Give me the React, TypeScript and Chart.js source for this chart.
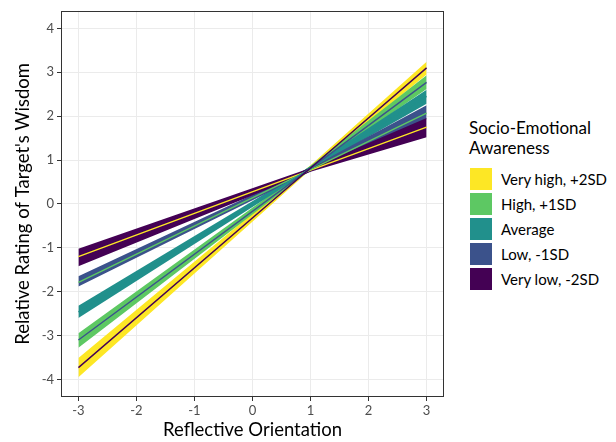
import React, { useEffect, useRef } from "react";
import { Chart, registerables } from "chart.js";

Chart.register(...registerables);

// x positions at which the fitted lines and confidence bands are read
const X_POINTS = [-3, 1, 3];
const X_TICKS = [-3, -2, -1, 0, 1, 2, 3];
const Y_TICKS = [-4, -3, -2, -1, 0, 1, 2, 3, 4];

const GROUP_LABELS = ["Very high, +2SD", "High, +1SD", "Average", "Low, -1SD", "Very low, -2SD"];
const FILL_COLORS = ["#FDE725", "#5DC863", "#21908C", "#3B528B", "#440154"];
const LINE_COLORS = ["#440154", "#3B528B", "#21908C", "#5DC863", "#FDE725"];

// fitted values
const VERY_HIGH_FIT = [-3.73, 0.82, 3.1];
const HIGH_FIT = [-3.1, 0.81, 2.77];
const AVERAGE_FIT = [-2.46, 0.81, 2.45];
const LOW_FIT = [-1.79, 0.78, 2.07];
const VERY_LOW_FIT = [-1.2, 0.77, 1.75];

// confidence band lower / upper
const VERY_HIGH_LOWER = [-3.95, 0.78, 2.95];
const VERY_HIGH_UPPER = [-3.51, 0.88, 3.24];
const HIGH_LOWER = [-3.28, 0.77, 2.62];
const HIGH_UPPER = [-2.95, 0.87, 2.93];
const AVERAGE_LOWER = [-2.6, 0.77, 2.28];
const AVERAGE_UPPER = [-2.32, 0.86, 2.6];
const LOW_LOWER = [-1.88, 0.74, 1.93];
const LOW_UPPER = [-1.65, 0.83, 2.25];
const VERY_LOW_LOWER = [-1.42, 0.73, 1.52];
const VERY_LOW_UPPER = [-1.02, 0.82, 1.96];

const FITS = [VERY_HIGH_FIT, HIGH_FIT, AVERAGE_FIT, LOW_FIT, VERY_LOW_FIT];
const LOWERS = [VERY_HIGH_LOWER, HIGH_LOWER, AVERAGE_LOWER, LOW_LOWER, VERY_LOW_LOWER];
const UPPERS = [VERY_HIGH_UPPER, HIGH_UPPER, AVERAGE_UPPER, LOW_UPPER, VERY_LOW_UPPER];

const X_TITLE = "Reflective Orientation";
const Y_TITLE = "Relative Rating of Target's Wisdom";
const LEGEND_TITLE = ["Socio-Emotional", "Awareness"];

const FONT = "Lato, 'Noto Sans', sans-serif";

const panelBorder = {
  id: "panelBorder",
  afterDatasetsDraw(chart: any) {
    const { ctx, chartArea } = chart;
    ctx.save();
    ctx.strokeStyle = "#333333";
    ctx.lineWidth = 1;
    ctx.strokeRect(
      Math.round(chartArea.left) + 0.5,
      Math.round(chartArea.top) + 0.5,
      Math.round(chartArea.right - chartArea.left) - 1,
      Math.round(chartArea.bottom - chartArea.top) - 1
    );
    ctx.restore();
  },
};

export default function App() {
  const ref = useRef<HTMLCanvasElement | null>(null);

  useEffect(() => {
    if (!ref.current) return;
    const datasets: any[] = [];
    const toPts = (arr: number[]) => X_POINTS.map((x, j) => ({ x, y: arr[j] }));
    // ribbons
    GROUP_LABELS.forEach((label, i) => {
      const upperIndex = datasets.length;
      datasets.push({
        label: label + " upper",
        data: toPts(UPPERS[i]),
        borderWidth: 0,
        pointRadius: 0,
        backgroundColor: FILL_COLORS[i],
        borderColor: FILL_COLORS[i],
        fill: upperIndex + 1,
        order: 10 - i,
        tension: 0,
      });
      datasets.push({
        label: label + " lower",
        data: toPts(LOWERS[i]),
        borderWidth: 0,
        pointRadius: 0,
        backgroundColor: FILL_COLORS[i],
        borderColor: FILL_COLORS[i],
        fill: false,
        order: 10 - i,
        tension: 0,
      });
    });
    // fitted lines
    GROUP_LABELS.forEach((label, i) => {
      datasets.push({
        label,
        data: toPts(FITS[i]),
        borderWidth: 1.4,
        borderColor: LINE_COLORS[i],
        pointRadius: 0,
        fill: false,
        order: 0,
        tension: 0,
      });
    });

    const chart = new Chart(ref.current, {
      type: "line",
      data: { datasets },
      plugins: [panelBorder],
      options: {
        animation: false,
        responsive: false,
        devicePixelRatio: 1,
        layout: { padding: { left: 0, right: 8, top: 10, bottom: 0 } },
        plugins: {
          legend: { display: false },
          tooltip: { enabled: false },
        },
        scales: {
          x: {
            type: "linear",
            min: -3.3,
            max: 3.3,
            afterBuildTicks: (scale: any) => {
              scale.ticks = X_TICKS.map((v) => ({ value: v }));
            },
            afterFit: (scale: any) => {
              scale.height = 45;
            },
            ticks: {
              color: "#4D4D4D",
              font: { family: FONT, size: 13 },
              padding: 2,
              maxRotation: 0,
              autoSkip: false,
              callback: (v: any) => String(v),
            },
            grid: {
              color: "#EBEBEB",
              lineWidth: 1,
              drawTicks: true,
              tickLength: 4,
              tickColor: "#333333",
            },
            border: { display: false },
            title: {
              display: true,
              text: X_TITLE,
              color: "#000000",
              font: { family: FONT, size: 18.5 },
              padding: { top: 1, bottom: 1 },
            },
          },
          y: {
            type: "linear",
            min: -4.4,
            max: 4.4,
            afterBuildTicks: (scale: any) => {
              scale.ticks = Y_TICKS.map((v) => ({ value: v }));
            },
            afterFit: (scale: any) => {
              scale.width = 61;
            },
            ticks: {
              color: "#4D4D4D",
              font: { family: FONT, size: 13 },
              padding: 3,
              autoSkip: false,
              callback: (v: any) => String(v),
            },
            grid: {
              color: "#EBEBEB",
              lineWidth: 1,
              drawTicks: true,
              tickLength: 4,
              tickColor: "#333333",
            },
            border: { display: false },
            title: {
              display: true,
              text: Y_TITLE,
              color: "#000000",
              font: { family: FONT, size: 18.5 },
              padding: { top: 12, bottom: 12 },
            },
          },
        },
      },
    } as any);
    return () => chart.destroy();
  }, []);

  return (
    <div style={{ position: "fixed", left: 0, top: 0, width: 616, height: 442, background: "#fff", fontFamily: FONT }}>
      <canvas ref={ref} width={452} height={442} style={{ position: "absolute", left: 0, top: 0, width: 452, height: 442 }} />
      <div style={{ position: "absolute", left: 469, top: 118 }}>
        <div style={{ fontSize: 17, lineHeight: "19.5px", color: "#000" }}>
          {LEGEND_TITLE.map((t) => (
            <div key={t}>{t}</div>
          ))}
        </div>
        <div style={{ marginTop: 9 }}>
          {GROUP_LABELS.map((label, i) => (
            <div key={label} style={{ display: "flex", alignItems: "center", height: 25 }}>
              <div style={{ width: 22, height: 22, background: FILL_COLORS[i], marginLeft: 1 }} />
              <div style={{ marginLeft: 9, fontSize: 15, color: "#000", whiteSpace: "nowrap" }}>{label}</div>
            </div>
          ))}
        </div>
      </div>
    </div>
  );
}
